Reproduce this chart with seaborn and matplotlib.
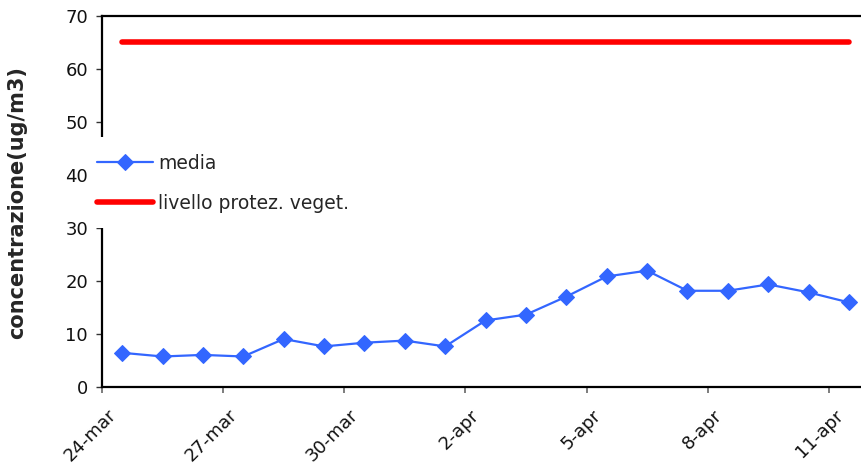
import pandas as pd
import numpy as np
import matplotlib.pyplot as plt
import matplotlib.transforms as mtransforms
from matplotlib.patches import Rectangle
import seaborn as sns

# daily averages, 24 mar - 11 apr
dates = pd.date_range("2008-03-24", periods=19, freq="D") + pd.Timedelta(hours=12)
media = [6.4, 5.7, 6.0, 5.7, 9.0, 7.6, 8.3, 8.7, 7.6, 12.5,
         13.6, 17.0, 20.8, 21.9, 18.1, 18.1, 19.3, 17.8, 15.9]
livello = [65] * len(media)

tick_dates = pd.date_range("2008-03-24", "2008-04-11", freq="3D")
tick_labels = ["24-mar", "27-mar", "30-mar", "2-apr", "5-apr", "8-apr", "11-apr"]

sns.set_style("ticks")
plt.rcParams['font.family'] = ['DejaVu Sans']

df = pd.DataFrame({"data": dates, "media": media, "livello": livello})

fig = plt.figure(figsize=(8.62, 4.76), dpi=100)
ax = fig.add_axes([0.1183, 0.1876, 0.89, 0.7794])

sns.lineplot(data=df, x="data", y="media", ax=ax, color="#3366FF",
             linewidth=1.6, marker="D", markersize=8.5, markeredgecolor="#3366FF",
             label="media")
sns.lineplot(data=df, x="data", y="livello", ax=ax, color="#FF0000",
             linewidth=4, solid_capstyle="round", label="livello protez. veget.")

ax.set_ylim(0, 70)
ax.set_yticks(range(0, 71, 10))
ax.set_xlim(pd.Timestamp("2008-03-24"), pd.Timestamp("2008-04-12"))
ax.set_xticks(tick_dates)
ax.set_xticklabels(tick_labels, rotation=45, ha="right", rotation_mode="anchor",
                   fontsize=13, color="#111111")
ax.tick_params(axis="y", labelsize=13, length=4, width=1, color="#333333",
               pad=6, labelcolor="#111111")
ax.tick_params(axis="x", length=4, width=1.2, color="#666666")

# nudge the rotated date labels like the original
offset = mtransforms.ScaledTranslation(5 / 100, -9 / 100, fig.dpi_scale_trans)
for lab in ax.get_xticklabels():
    lab.set_transform(lab.get_transform() + offset)

ax.set_xlabel("")
ax.set_ylabel("concentrazione(ug/m3)", fontsize=15, fontweight="bold")
ax.yaxis.set_label_coords(-0.098, 0.495)

for side in ["left", "bottom", "top"]:
    ax.spines[side].set_linewidth(1.6)
    ax.spines[side].set_color("black")
ax.spines["right"].set_visible(False)

# legend sits on top of the y axis, hiding that part of the spine
ax.add_patch(Rectangle((-0.013, 0.428), 0.02, 0.245, transform=ax.transAxes,
                       facecolor="white", edgecolor="none", zorder=3,
                       clip_on=False))
leg = ax.legend(loc="upper left", bbox_to_anchor=(-0.0163, 0.6474), frameon=False,
                fontsize=13.5, handlelength=3.0, handletextpad=0.28,
                labelspacing=1.1, borderaxespad=0, borderpad=0.4)
leg.set_zorder(10)

fig.savefig("out.png", dpi=100)
